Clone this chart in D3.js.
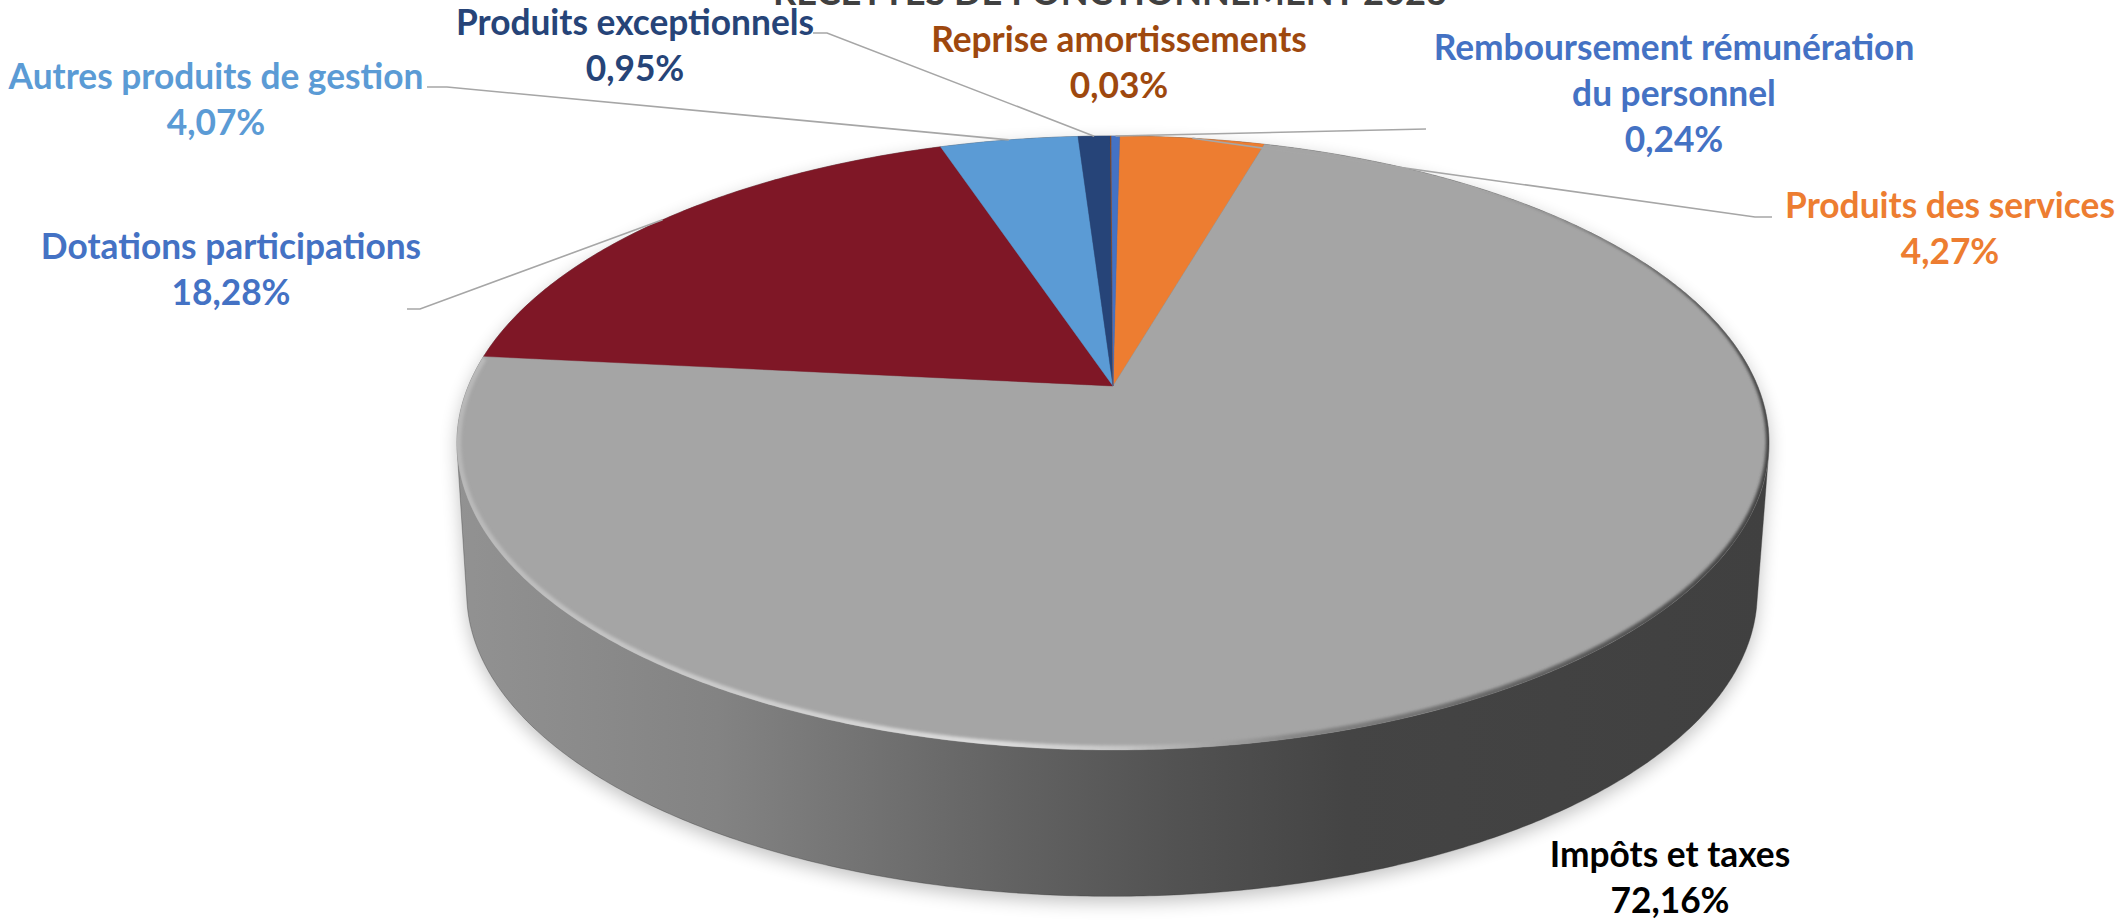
<!DOCTYPE html>
<html lang="fr"><head><meta charset="utf-8">
<script src="https://cdnjs.cloudflare.com/ajax/libs/d3/7.8.5/d3.min.js"></script>
<style>html,body{margin:0;padding:0;background:#fff;overflow:hidden}svg{display:block}text{font-family:Lato,"Open Sans",sans-serif;font-weight:700}</style>
</head><body><svg id="c" width="2125" height="922"></svg>
<script>
const title = "RECETTES DE FONCTIONNEMENT 2023";
const categories = ["Produits des services","Impôts et taxes","Dotations participations","Autres produits de gestion","Produits exceptionnels","Reprise amortissements","Remboursement rémunération|du personnel"];
const values = [4.27,72.16,18.28,4.07,0.95,0.03,0.24];
const sliceColors = ["#ed7d31","#a5a5a5","#7f1726","#5b9bd5","#264478","#9e480e","#4472c4"];
const labelColors = ["#ed7d31","#000000","#4472c4","#5b9bd5","#264478","#9e480e","#4472c4"];
// layout: label centre x, first baseline y, leader elbow / start
const labelX = [1950,1670,231,216,635,1119,1674];
const labelY = [218,867,259,89,35,52,60];
const lineStep = 46;
const leaderStart = [[1772,217],null,[407,309],[427,87],[813,33],null,[1426,129]];
const leaderElbow = [[1755,217],null,[420,309],[447,87],[827,33],null,null];

const svg = d3.select("#c");
const defs = svg.append("defs");

// perspective projection of a unit circle
const top_ = {cx:1113, cy:386, A:644.6, B:296.4, k:0.1857};
const bot_ = {cx:1112, cy:563, A:642, B:300, k:0.1};
function proj(p, a){
  const u=Math.sin(a), v=-Math.cos(a), d=1-p.k*v;
  return [p.cx+p.A*u/d, p.cy+p.B*v/d];
}
const rad = Math.PI/180;
const rotation = 0.7*rad;
const sweep = (a0,a1)=>{const n=Math.max(1,Math.ceil((a1-a0)/(0.5*rad)));return d3.range(n+1).map(i=>a0+(a1-a0)*i/n);};
const full = sweep(0,2*Math.PI);
const line = d3.line();

// wall gradient
const wg = defs.append("linearGradient").attr("id","wall").attr("gradientUnits","userSpaceOnUse")
  .attr("x1",455).attr("x2",1767).attr("y1",0).attr("y2",0);
[[0,"#929292"],[0.2,"#838383"],[0.42,"#636363"],[0.55,"#525252"],[0.68,"#444444"],[1,"#404040"]]
  .forEach(s=>wg.append("stop").attr("offset",s[0]).attr("stop-color",s[1]));
const sh = defs.append("filter").attr("id","shadow").attr("x","-10%").attr("y","-10%").attr("width","120%").attr("height","125%");
sh.append("feGaussianBlur").attr("stdDeviation",9);
const bl = defs.append("filter").attr("id","rimblur").attr("x","-5%").attr("y","-5%").attr("width","110%").attr("height","110%");
bl.append("feGaussianBlur").attr("stdDeviation",1.7);
defs.append("clipPath").attr("id","topclip").append("path").attr("d",line(full.map(a=>proj(top_,a)))+"Z");

const hull = d3.polygonHull(full.map(a=>proj(top_,a)).concat(full.map(a=>proj(bot_,a))));
const hullD = line(hull)+"Z";
svg.append("path").attr("d",hullD).attr("fill","#000").attr("opacity",0.24)
   .attr("transform","translate(0,6)").attr("filter","url(#shadow)");
svg.append("path").attr("d",hullD).attr("fill","url(#wall)");
svg.append("path").attr("d",hullD).attr("fill","none").attr("stroke","#333").attr("stroke-opacity",0.35).attr("stroke-width",1);

// top face
const pie = d3.pie().sort(null).value(d=>d).startAngle(rotation).endAngle(2*Math.PI+rotation);
const arcs = pie(values);
svg.append("g").selectAll("path").data(arcs).join("path")
  .attr("d",d=>line([[top_.cx,top_.cy]].concat(sweep(d.startAngle,d.endAngle).map(a=>proj(top_,a))))+"Z")
  .attr("fill",(d,i)=>sliceColors[i])
  .attr("stroke",(d,i)=>sliceColors[i]).attr("stroke-width",0.4);

// bevel on rim of the largest slice
const big = arcs[1];
const rimColor = d3.scaleLinear().domain([455,620,1000,1130,1300,1600,1767])
  .range(["#b8b8b8","#c4c4c4","#dcdcdc","#c4c4c4","#858585","#585858","#444444"]);
const rimWidth = d3.scaleLinear().domain([40,110,180,280,300]).range([0,7,9,8,0]).clamp(true);
const rimAngles = sweep(40*rad,300*rad);
const rim = svg.append("g").attr("clip-path","url(#topclip)").append("g").attr("filter","url(#rimblur)").attr("fill","none");
rim.selectAll("path").data(d3.pairs(rimAngles).filter(p=>p[0]>=big.startAngle&&p[1]<=big.endAngle)).join("path")
  .attr("d",p=>line([proj(top_,p[0]),proj(top_,p[1]+0.002)]))
  .attr("stroke",p=>rimColor(proj(top_,p[0])[0]))
  .attr("stroke-width",p=>rimWidth(p[0]/rad));

// leader lines
const g = svg.append("g").attr("fill","none").attr("stroke","#a6a6a6").attr("stroke-width",1.6);
arcs.forEach((d,i)=>{
  if(!leaderStart[i]) return;
  const pts=[leaderStart[i]];
  if(leaderElbow[i]) pts.push(leaderElbow[i]);
  pts.push(proj(top_,(d.startAngle+d.endAngle)/2));
  g.append("path").attr("d",line(pts));
});

// labels
const fmt = v=>v.toFixed(2).replace(".",",")+"%";
const FS=35.3;
categories.forEach((c,i)=>{
  const lines=c.split("|").concat(fmt(values[i]));
  const t=svg.append("text").attr("text-anchor","middle").attr("font-size",FS).attr("fill",labelColors[i]);
  lines.forEach((s,j)=>t.append("tspan").attr("x",labelX[i]).attr("y",labelY[i]+j*lineStep).text(s));
});
svg.append("text").attr("x",1110).attr("y",5).attr("text-anchor","middle").attr("font-size",36.2).attr("fill","#404040").text(title);
</script></body></html>
